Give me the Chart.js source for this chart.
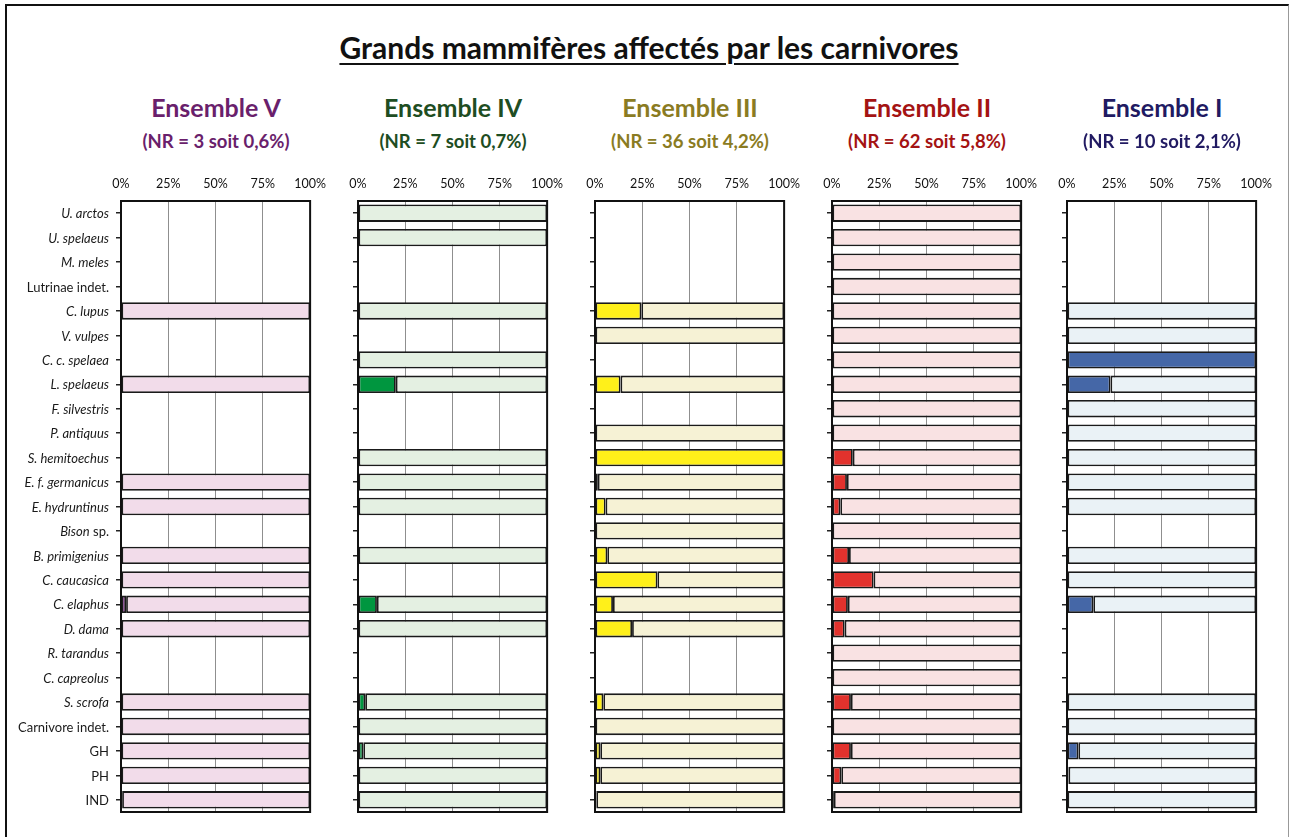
<!DOCTYPE html>
<html>
<head>
<meta charset="utf-8">
<script src="https://cdn.jsdelivr.net/npm/chart.js@4"></script>
<style>
  body { margin: 0; background: #fff; font-family: Lato, sans-serif; }
  #page { position: relative; width: 1290px; height: 837px; overflow: hidden; }
  #frame { position: absolute; left: 5px; top: 4px; width: 1281px; height: 900px;
           border-left: 2px solid #111; border-top: 2px solid #111; border-right: 1px solid #999; }
  .txt { position: absolute; white-space: nowrap; transform: translateX(-50%); font-weight: 700; }
  #title { left: 649px; top: 29px; font-size: 30px; color: #111; text-decoration: underline; text-underline-offset: 4px; text-decoration-thickness: 2px; }
  canvas { position: absolute; }
</style>
</head>
<body>
<div id="page">
  <div id="frame"></div>
  <div id="title" class="txt">Grands mammifères affectés par les carnivores</div>
</div>
<script>
// taxons (lignes)
const categories = [
  "U. arctos", "U. spelaeus", "M. meles", "Lutrinae indet.", "C. lupus", "V. vulpes",
  "C. c. spelaea", "L. spelaeus", "F. silvestris", "P. antiquus", "S. hemitoechus",
  "E. f. germanicus", "E. hydruntinus", "Bison sp.", "B. primigenius", "C. caucasica",
  "C. elaphus", "D. dama", "R. tarandus", "C. capreolus", "S. scrofa",
  "Carnivore indet.", "GH", "PH", "IND"
];
const uprightLabels = ["Lutrinae indet.", "Carnivore indet.", "GH", "PH", "IND"];

const ensembleNames = ["Ensemble V", "Ensemble IV", "Ensemble III", "Ensemble II", "Ensemble I"];
const ensembleNR = ["(NR = 3 soit 0,6%)", "(NR = 7 soit 0,7%)", "(NR = 36 soit 4,2%)", "(NR = 62 soit 5,8%)", "(NR = 10 soit 2,1%)"];

// % de restes affectés par taxon (null = taxon absent)
const ensV   = [null, null, null, null, 0, null, null, 0, null, null, null, 0, 0, null, 0, 0, 2.7, 0, null, null, 0, 0, 0, 0, 0.6];
const ensIV  = [0, 0, null, null, 0, null, 0, 20, null, null, 0, 0, 0, null, 0, null, 10, 0, null, null, 3.8, 0, 2.8, 0.3, 0];
const ensIII = [null, null, null, null, 24.5, 0, null, 13.5, null, 0, 100, 1.5, 5.6, 0, 6.5, 33, 9.5, 19.6, null, null, 4.4, 0, 2.8, 2.8, 0.7];
const ensII  = [0, 0, 0, 0, 0, 0, 0, 0, 0, 0, 11, 7.9, 4.4, 0, 9, 22, 8.4, 6.7, 0, 0, 10, 0, 10, 4.9, 1];
const ensI   = [null, null, null, null, 0, 0, 100, 23, 0, 0, 0, 0, 0, null, 0, 0, 13.9, null, null, null, 0, 0, 6, 0.8, 0];

const xTicks = [0, 25, 50, 75, 100];

const series = [ensV, ensIV, ensIII, ensII, ensI];
const colors = [
  { title: "#6a1f6c", bar: "#7b2c86", light: "#f2dcea" },
  { title: "#1e4d22", bar: "#00963f", light: "#e4f0e2" },
  { title: "#8a7b22", bar: "#fff01a", light: "#f6f2d5" },
  { title: "#a41313", bar: "#e2322d", light: "#f9e2e3" },
  { title: "#211a62", bar: "#4567a7", light: "#eaf2f6" }
];

const plotLefts = [121, 358, 595, 832, 1067];
const plotW = 190, canvasTop = 165, axisH = 36, padBottom = 8, padRight = 25;
const canvasH = axisH + 611 + padBottom;

Chart.defaults.font.family = "Lato";
Chart.defaults.color = "#111";

const plotFrame = {
  id: "plotFrame",
  afterDatasetsDraw(chart) {
    const a = chart.chartArea, c = chart.ctx;
    c.save();
    c.strokeStyle = "#111";
    c.lineWidth = 2;
    c.strokeRect(a.left, a.top, a.right - a.left, a.bottom - a.top);
    c.restore();
  }
};

const speciesLabels = {
  id: "speciesLabels",
  afterDraw(chart) {
    const y = chart.scales.y, c = chart.ctx;
    c.save();
    c.fillStyle = "#1a1a1a";
    c.textBaseline = "middle";
    c.textAlign = "right";
    categories.forEach((lab, i) => {
      const py = y.getPixelForValue(i) + 1;
      let x = chart.chartArea.left - 12;
      let parts;
      if (uprightLabels.includes(lab)) parts = [[lab, "normal"]];
      else if (lab.endsWith(" sp.")) parts = [[lab.slice(0, -4), "italic"], [" sp.", "normal"]];
      else parts = [[lab, "italic"]];
      for (let k = parts.length - 1; k >= 0; k--) {
        c.font = parts[k][1] + " 13px Lato";
        c.fillText(parts[k][0], x, py);
        x -= c.measureText(parts[k][0]).width;
      }
    });
    c.restore();
  }
};

const page = document.getElementById("page");

series.forEach((vals, p) => {
  const yW = p === 0 ? 116 : 22;
  const canvas = document.createElement("canvas");
  canvas.width = yW + plotW + padRight;
  canvas.height = canvasH;
  canvas.style.left = (plotLefts[p] - yW) + "px";
  canvas.style.top = canvasTop + "px";
  page.appendChild(canvas);

  const center = plotLefts[p] + plotW / 2;
  const h = document.createElement("div");
  h.className = "txt";
  h.style.cssText = `left:${center}px;top:92px;font-size:25px;color:${colors[p].title}`;
  h.textContent = ensembleNames[p];
  page.appendChild(h);
  const s = document.createElement("div");
  s.className = "txt";
  s.style.cssText = `left:${center}px;top:130px;font-size:18.5px;color:${colors[p].title}`;
  s.textContent = ensembleNR[p];
  page.appendChild(s);

  new Chart(canvas, {
    type: "bar",
    data: {
      labels: categories,
      datasets: [
        {
          label: "affectés",
          data: vals.map(v => (v === 0 ? null : v)),
          backgroundColor: colors[p].bar,
          borderColor: "#1a1a1a",
          borderWidth: 1.8,
          borderSkipped: false
        },
        {
          label: "reste",
          data: vals.map(v => (v === null ? null : 100 - v)),
          backgroundColor: colors[p].light,
          borderColor: "#1a1a1a",
          borderWidth: 1.8,
          borderSkipped: false
        }
      ]
    },
    options: {
      indexAxis: "y",
      responsive: false,
      animation: false,
      devicePixelRatio: 1,
      categoryPercentage: 1,
      barPercentage: 0.71,
      layout: { padding: { right: padRight, bottom: padBottom, left: 0, top: 0 } },
      plugins: { legend: { display: false }, tooltip: { enabled: false } },
      scales: {
        x: {
          position: "top",
          stacked: true,
          min: 0,
          max: 100,
          afterBuildTicks: sc => { sc.ticks = xTicks.map(v => ({ value: v })); },
          afterFit: sc => { sc.height = axisH; },
          ticks: { callback: v => v + "%", font: { size: 12.5 }, color: "#111", padding: 10, maxRotation: 0 },
          grid: { color: "#8f8f8f", lineWidth: 1, drawTicks: false },
          border: { display: false }
        },
        y: {
          stacked: true,
          afterFit: sc => { sc.width = yW; },
          ticks: { display: false },
          grid: { drawOnChartArea: false, drawTicks: true, tickLength: 5, color: "#222", lineWidth: 1.5, offset: false },
          border: { display: false }
        }
      }
    },
    plugins: p === 0 ? [plotFrame, speciesLabels] : [plotFrame]
  });
});
</script>
</body>
</html>
